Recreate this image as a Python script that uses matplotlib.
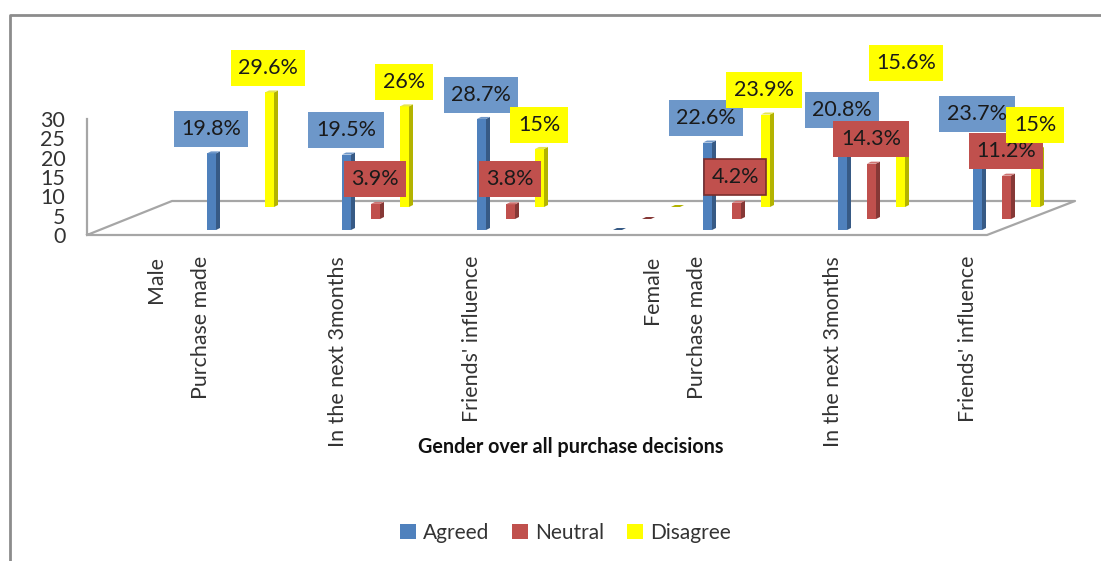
import matplotlib
matplotlib.use('Agg')
import matplotlib.pyplot as plt
from matplotlib.patches import Polygon

plt.rcParams['font.family'] = ['Lato', 'DejaVu Sans']

categories = ['Male', 'Purchase made', 'In the next 3months', "Friends' influence",
              'Female', 'Purchase made', 'In the next 3months', "Friends' influence"]
agreed = [None, 19.8, 19.5, 28.7, 0, 22.6, 20.8, 23.7]
neutral = [None, None, 3.9, 3.8, 0, 4.2, 14.3, 11.2]
disagree = [None, 29.6, 26, 15, 0, 23.9, 15.6, 15]

W, H = 1101, 561
Y0 = 235        # pixel row of value 0
PX = 3.87       # pixels per unit

def v(row):
    return (Y0 - row) / PX

fig = plt.figure(figsize=(W / 100, H / 100), dpi=100)
ax = fig.add_axes([0, 0, 1, 1])
ax.set_xlim(0, W)
ax.set_ylim(v(H), v(0))
ax.patch.set_visible(False)
for s in ax.spines.values():
    s.set_visible(False)

# outer frame
ax.plot([10, 10, W], [v(H), v(15), v(15)], color='#8c8c8c', lw=2, zorder=1)

# floor and wall
gray = '#a6a6a6'
ax.plot([87, 87, 987, 1075, 172, 87], [v(119), v(235), v(235), v(201), v(201), v(235)],
        color=gray, lw=1.6, zorder=1)

ax.set_yticks([0, 5, 10, 15, 20, 25, 30])
ax.tick_params(axis='y', length=0, pad=-47, labelsize=15.5, labelcolor='#333333')
ax.tick_params(axis='x', bottom=False, labelbottom=False)

# layout
bar_x = [0, 207, 342, 477, 613, 703, 838, 973]
series = [('Agreed', agreed, '#4f81bd', '#375a85', '#6f97c8', 0, 230),
          ('Neutral', neutral, '#c0504d', '#863836', '#cd7371', 29, 219),
          ('Disagree', disagree, '#ffff00', '#b3b300', '#e6e64d', 58, 207)]
w, dx, dy = 9, 4, 2

for name, vals, col, side, top, off, base in series:
    keep = [i for i, val in enumerate(vals) if val is not None]
    ax.bar([bar_x[i] + off + w / 2 for i in keep], [vals[i] for i in keep], width=w, bottom=v(base),
           color=col, label=name, zorder=3)
    for i in keep:
        x0 = bar_x[i] + off
        x1 = x0 + w
        y0, y1 = v(base), v(base) + vals[i]
        d = dy / PX
        ax.add_patch(Polygon([(x1, y0), (x1 + dx, y0 + d), (x1 + dx, y1 + d), (x1, y1)],
                             facecolor=side, edgecolor='none', zorder=3))
        ax.add_patch(Polygon([(x0, y1), (x1, y1), (x1 + dx, y1 + d), (x0 + dx, y1 + d)],
                             facecolor=top if vals[i] else side, edgecolor='none', zorder=3))

# data labels, centre of each box in pixels
agreed_pos = [None, (211, 129), (346, 130), (481, 95), None, (706, 118), (842, 110), (977, 114)]
neutral_pos = [None, None, (375, 179), (510, 179), None, (735, 177), (871, 139), (1006, 151)]
disagree_pos = [None, (268, 68), (404, 82), (539, 125), None, (764, 90), (906, 63), (1035, 125)]
label_sets = [(agreed, agreed_pos, '#6d97c9', 5), (neutral, neutral_pos, '#c0504d', 6),
              (disagree, disagree_pos, '#ffff00', 7)]
for vals, pos, col, z in label_sets:
    for val, p in zip(vals, pos):
        if not val:
            continue
        # the 4.2% box is the one selected in the source, darker border
        edge = '#7a2f2d' if val == 4.2 else 'none'
        ax.text(p[0], v(p[1]), f'{val:g}%', fontsize=15.5, color='#1a1a1a', ha='center', va='center', zorder=z,
                bbox=dict(boxstyle='square,pad=0.35', facecolor=col, edgecolor=edge, linewidth=1.2))

# category labels
label_x = [156, 201, 338, 472, 652, 697, 833, 968]
for x, c in zip(label_x, categories):
    ax.text(x, v(256), c, rotation=90, ha='center', va='top', fontsize=15.4, color='#333333')

ax.text(571, v(447), 'Gender over all purchase decisions', ha='center', va='center',
        fontsize=14.2, fontweight='bold', color='#111111')

ax.legend(loc='center', bbox_to_anchor=(565 / W, 1 - 533 / H), ncol=3, frameon=False, fontsize=15,
          handlelength=0.8, handleheight=0.75, handletextpad=0.3, columnspacing=1.1,
          labelcolor='#333333')

fig.savefig('out.png', dpi=100, facecolor='white')
plt.close()
